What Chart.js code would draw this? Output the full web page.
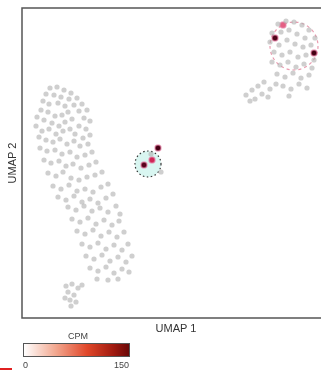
<!DOCTYPE html>
<html>
<head>
<meta charset="utf-8">
<script src="https://cdn.jsdelivr.net/npm/chart.js@4"></script>
<style>
  html, body { margin: 0; padding: 0; background: #fff; overflow: hidden; width: 321px; height: 371px; }
  #wrap { position: absolute; left: 0; top: 0; width: 340px; height: 340px; }
  .leyenda { position: absolute; font-family: Arial, "Liberation Sans", sans-serif; color: #444; font-size: 9px; }
  #barra { position: absolute; left: 23px; top: 343px; width: 105px; height: 12px; border: 1px solid #555;
    background: linear-gradient(to right, #ffffff 0%, #f2a890 30%, #e0472a 60%, #a11b10 85%, #6a0808 100%); }
  #marca { position: absolute; left: 0; top: 368px; width: 12px; height: 2px; background: #e02020; }
</style>
</head>
<body>
<div id="wrap"><canvas id="umap" width="340" height="340"></canvas></div>
<div class="leyenda" style="left:68px; top:331px;">CPM</div>
<div id="barra"></div>
<div class="leyenda" style="left:23px; top:360px;">0</div>
<div class="leyenda" style="left:114px; top:360px;">150</div>
<div id="marca"></div>
<script>
// celulas sin expresion (coordenadas UMAP)
const grisX = [
  50,57,64,71,46,54,61,69,77,82,43,49,58,65,74,79,87,41,48,55,62,68,72,84,90,37,44,52,59,65,70,79,86,36,42,49,56,63,75,83,90,39,46,
  53,60,67,74,80,88,40,47,55,62,70,77,85,92,44,51,59,66,73,81,89,96,48,56,63,71,79,87,95,102,53,61,69,77,85,93,101,108,58,66,74,82,90,98,106,113,
  68,76,84,92,100,108,116,120,72,80,88,96,104,112,119,77,85,93,101,109,117,124,82,90,98,106,114,122,128,86,94,102,110,118,126,132,90,98,106,114,122,129,97,108,118,
  66,72,78,82,68,74,70,76,65,71,
  278,286,294,302,309,315,272,281,289,297,305,270,279,287,295,303,311,274,282,290,298,306,314,272,280,288,296,304,312,277,285,293,301,309,283,291,299,307,289,
  246,252,258,264,255,262,270,276,250,268, 151,161];
const grisY = [
  88,87,90,93,94,95,97,99,98,104,101,104,103,106,105,111,110,110,112,116,115,112,119,118,121,117,120,123,126,122,129,126,129,126,131,129,134,131,134,138,135,137,140,
  142,139,144,141,146,144,148,151,150,154,152,157,155,152,160,163,161,166,164,168,165,162,173,176,172,178,180,177,175,172,186,189,185,191,189,192,187,184,197,200,196,202,199,203,198,194,
  207,210,206,211,208,212,206,214,219,222,218,224,220,225,221,231,234,230,236,232,237,232,244,247,243,249,245,250,244,256,259,255,261,257,262,256,268,271,267,273,269,272,279,280,279,
  286,284,288,285,292,295,300,302,298,306,
  24,21,22,25,30,38,33,32,30,34,38,42,45,40,44,47,45,52,55,52,57,55,60,62,65,62,67,64,68,74,77,73,78,75,86,89,84,88,96,
  95,90,86,82,99,94,89,84,101,97, 154,172];

// celulas con expresion
const exprX = [158,144,152,275,314,283];
const exprY = [148,165,160,38,53,25];
const exprCPM = [150,140,70,145,150,40];

// anillos de seleccion
const anilloX = [148,294];
const anilloY = [164,46];
const anilloR = [13,24];

function colorCPM(v) {
  const t = Math.min(v / 150, 1);
  const a = [255, 170, 190], b = [205, 30, 80], c = [70, 0, 20];
  const mix = (p, q, s) => p.map((n, i) => Math.round(n + (q[i] - n) * s));
  const rgb = t < 0.5 ? mix(a, b, t * 2) : mix(b, c, (t - 0.5) * 2);
  return `rgb(${rgb.join(',')})`;
}

const anillos = {
  id: 'anillos',
  beforeDatasetsDraw(chart) {
    const { ctx, scales: { x, y } } = chart;
    anilloX.forEach((cx, i) => {
      const px = x.getPixelForValue(cx);
      const py = y.getPixelForValue(anilloY[i]);
      const r = Math.abs(x.getPixelForValue(cx + anilloR[i]) - px);
      ctx.save();
      ctx.beginPath();
      ctx.arc(px, py, r, 0, Math.PI * 2);
      if (i === 0) {
        ctx.fillStyle = 'rgba(170,235,225,0.45)';
        ctx.fill();
        ctx.strokeStyle = '#333';
        ctx.setLineDash([1.5, 2.5]);
      } else {
        ctx.strokeStyle = 'rgba(225,110,140,0.7)';
        ctx.setLineDash([3, 3]);
      }
      ctx.lineWidth = 1.2;
      ctx.stroke();
      ctx.restore();
    });
  },
  afterDatasetsDraw(chart) {
    const { ctx, chartArea: a } = chart;
    ctx.save();
    ctx.strokeStyle = '#555';
    ctx.lineWidth = 1.5;
    ctx.strokeRect(a.left, a.top, a.right - a.left, a.bottom - a.top);
    ctx.restore();
  }
};

new Chart(document.getElementById('umap'), {
  type: 'scatter',
  data: {
    datasets: [{
      data: grisX.map((v, i) => ({ x: v, y: grisY[i] })),
      backgroundColor: 'rgba(175,175,175,0.6)',
      pointRadius: 2.6,
      borderWidth: 0
    }, {
      data: exprX.map((v, i) => ({ x: v, y: exprY[i] })),
      backgroundColor: exprCPM.map(colorCPM),
      borderColor: 'rgba(230,120,160,0.6)',
      borderWidth: 1.5,
      pointRadius: 3
    }]
  },
  options: {
    responsive: false,
    animation: false,
    layout: { padding: { left: 2, top: 8, right: 10, bottom: 0 } },
    plugins: { legend: { display: false }, tooltip: { enabled: false } },
    scales: {
      x: {
        min: 22, max: 330,
        grid: { display: false },
        ticks: { display: false },
        border: { display: false },
        title: { display: true, text: 'UMAP 1', color: '#333', font: { family: 'Arial', size: 11 } },
        afterFit: s => { s.height = 22; }
      },
      y: {
        min: 8, max: 318, reverse: true,
        grid: { display: false },
        ticks: { display: false },
        border: { display: false },
        title: { display: true, text: 'UMAP 2', color: '#333', font: { family: 'Arial', size: 11 } },
        afterFit: s => { s.width = 20; }
      }
    }
  },
  plugins: [anillos]
});
</script>
</body>
</html>
